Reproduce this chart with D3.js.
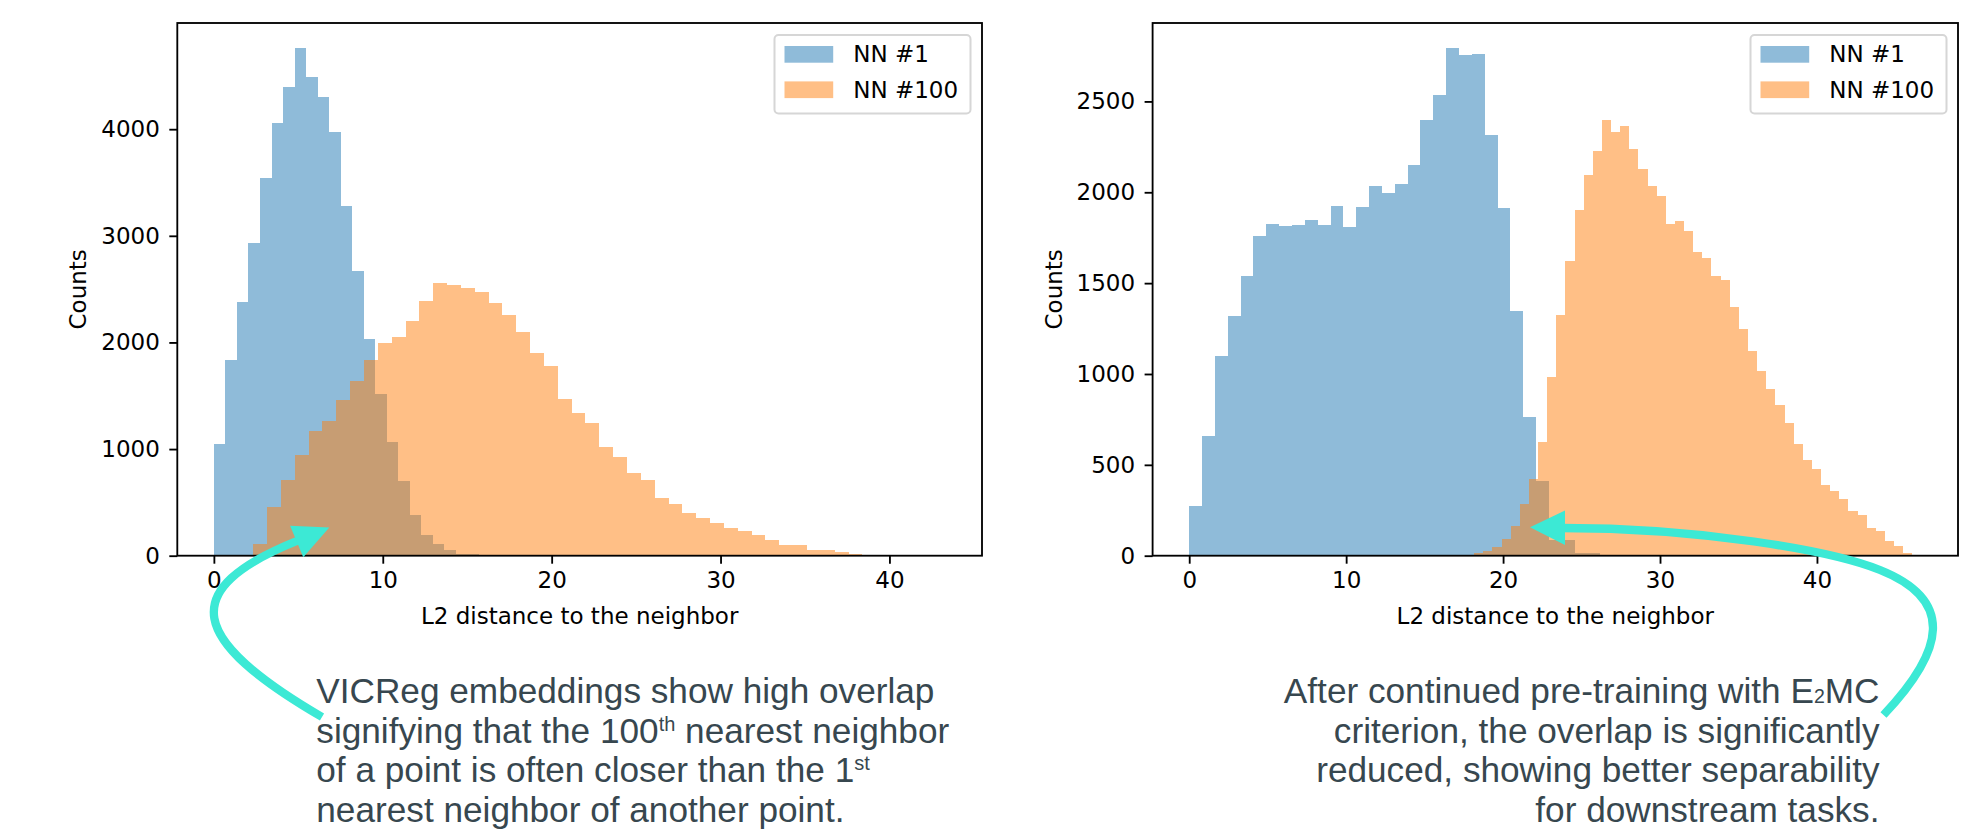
<!DOCTYPE html>
<html><head><meta charset="utf-8">
<script src="https://cdn.jsdelivr.net/npm/d3@7"></script>
<style>body{margin:0;background:#fff} svg{display:block}</style>
</head><body>
<svg id="c" width="1985" height="831"></svg>
<script>
// ---------------- data ----------------
const xTicks = [0, 10, 20, 30, 40];
const leftYTicks = [0, 1000, 2000, 3000, 4000];
const rightYTicks = [0, 500, 1000, 1500, 2000, 2500];
const seriesNames = ["NN #1", "NN #100"];
const xLabel = "L2 distance to the neighbor";
const yLabel = "Counts";

// left panel (VICReg)
const leftNN1Start = 0, leftNN1Width = 0.6824;
const leftNN1Counts = [1044, 1832, 2375, 2928, 3546, 4062, 4399, 4758, 4492, 4305,
  3969, 3276, 2666, 2030, 1515, 1065, 697, 380, 190, 113,
  52, 16, 14, 6, 5, 2, 1, 0, 0, 0,
  0, 0, 0, 0, 0, 0, 0, 0, 0, 0,
  0, 0, 0, 0, 0, 0, 0, 0, 0, 1];
const leftNN100Start = 2.33, leftNN100Width = 0.8197;
const leftNN100Counts = [111, 459, 711, 947, 1166, 1260, 1459, 1640, 1837, 1992,
  2052, 2202, 2390, 2556, 2537, 2512, 2474, 2371, 2259, 2100,
  1904, 1782, 1473, 1342, 1249, 1015, 921, 772, 706, 538,
  482, 398, 351, 304, 257, 229, 192, 145, 98, 98,
  51, 51, 33, 14, 5, 3, 2, 1, 1, 1];

// right panel (after E2MC)
const rightNN1Start = 0, rightNN1Width = 0.8187;
const rightNN1Counts = [273, 661, 1100, 1320, 1539, 1759, 1825, 1814, 1820, 1847,
  1820, 1924, 1808, 1920, 2033, 1996, 2045, 2149, 2396, 2533,
  2792, 2753, 2759, 2314, 1915, 1348, 766, 411, 88, 84,
  15, 13, 4, 2, 0, 0, 0, 0, 0, 0,
  0, 0, 0, 0, 0, 0, 0, 0, 0, 1];
const rightNN100Start = 17.58, rightNN100Width = 0.5815;
const rightNN100Counts = [5, 15, 26, 48, 92, 165, 286, 422, 628, 982,
  1325, 1623, 1903, 2096, 2227, 2397, 2332, 2365, 2239, 2129,
  2035, 1980, 1826, 1843, 1788, 1673, 1640, 1541, 1519, 1371,
  1246, 1128, 1018, 920, 827, 733, 612, 524, 475, 387,
  354, 310, 244, 222, 150, 134, 79, 52, 13, 5];

const leftNote = [
  [{t: "VICReg embeddings show high overlap"}],
  [{t: "signifying that the 100"}, {t: "th", sup: true}, {t: " nearest neighbor"}],
  [{t: "of a point is often closer than the 1"}, {t: "st", sup: true}],
  [{t: "nearest neighbor of another point."}]
];
const rightNote = [
  [{t: "After continued pre-training with E"}, {t: "2", small: true}, {t: "MC"}],
  [{t: "criterion, the overlap is significantly"}],
  [{t: "reduced, showing better separability"}],
  [{t: "for downstream tasks."}]
];

// ---------------- drawing ----------------
const svg = d3.select("#c");
svg.append("rect").attr("width", 1985).attr("height", 831).attr("fill", "#fff");
const COLORS = ["#1f77b4", "#ff7f0e"];
const FONT = "'DejaVu Sans', sans-serif";
const FS = 23;

function panel(box, series, yTicks, yLabelX) {
  const g = svg.append("g");
  const lo = d3.min(series, s => s.start);
  const hi = d3.max(series, s => s.start + s.counts.length * s.width);
  const pad = 0.05 * (hi - lo);
  const x = d3.scaleLinear().domain([lo - pad, hi + pad]).range([box.x0, box.x1]);
  const ymax = d3.max(series, s => d3.max(s.counts)) * 1.05;
  const y = d3.scaleLinear().domain([0, ymax]).range([box.y1, box.y0]);

  series.forEach((s, si) => {
    const bins = s.counts.map((c, i) => ({c, a: s.start + i * s.width, b: s.start + (i + 1) * s.width}))
      .filter(d => d.c > 0);
    g.append("g").selectAll("rect").data(bins).join("rect")
      .attr("x", d => x(d.a)).attr("width", d => x(d.b) - x(d.a))
      .attr("y", d => y(d.c)).attr("height", d => y(0) - y(d.c))
      .attr("fill", COLORS[si]).attr("fill-opacity", 0.5)
      .attr("shape-rendering", "crispEdges");
  });

  // frame
  g.append("rect").attr("x", box.x0).attr("y", box.y0)
    .attr("width", box.x1 - box.x0).attr("height", box.y1 - box.y0)
    .attr("fill", "none").attr("stroke", "#000").attr("stroke-width", 1.84);

  // x axis
  const xa = g.append("g").attr("transform", `translate(0,${box.y1})`)
    .call(d3.axisBottom(x).tickValues(xTicks).tickFormat(d3.format("d")).tickSize(8).tickPadding(8));
  xa.select(".domain").remove();
  xa.selectAll("line").attr("stroke", "#000").attr("stroke-width", 1.84);
  xa.selectAll("text").attr("font-family", FONT).attr("font-size", FS).attr("fill", "#000");

  const ya = g.append("g").attr("transform", `translate(${box.x0},0)`)
    .call(d3.axisLeft(y).tickValues(yTicks).tickFormat(d3.format("d")).tickSize(8).tickPadding(9.5));
  ya.select(".domain").remove();
  ya.selectAll("line").attr("stroke", "#000").attr("stroke-width", 1.84);
  ya.selectAll("text").attr("font-family", FONT).attr("font-size", FS).attr("fill", "#000");

  g.append("text").attr("x", (box.x0 + box.x1) / 2).attr("y", 624)
    .attr("text-anchor", "middle").attr("font-family", FONT).attr("font-size", FS).text(xLabel);
  g.append("text").attr("transform", `translate(${yLabelX},${(box.y0 + box.y1) / 2}) rotate(-90)`)
    .attr("text-anchor", "middle").attr("font-family", FONT).attr("font-size", FS).text(yLabel);

  // legend
  const lw = 196, lh = 78.5;
  const lx = box.x1 - 11.5 - lw, ly = box.y0 + 12;
  const lg = g.append("g");
  lg.append("rect").attr("x", lx).attr("y", ly).attr("width", lw).attr("height", lh)
    .attr("rx", 4).attr("fill", "#fff").attr("fill-opacity", 0.8)
    .attr("stroke", "#d6d6d6").attr("stroke-width", 2);
  seriesNames.forEach((n, i) => {
    const cy = ly + 19.3 + i * 35.4;
    lg.append("rect").attr("x", lx + 10).attr("y", cy - 8.3).attr("width", 48.7).attr("height", 16.7)
      .attr("fill", COLORS[i]).attr("fill-opacity", 0.5);
    lg.append("text").attr("x", lx + 78.7).attr("y", cy).attr("dominant-baseline", "central")
      .attr("font-family", FONT).attr("font-size", FS).text(n);
  });
  return {x, y};
}

panel({x0: 177.3, x1: 982, y0: 23, y1: 555.7},
  [{start: leftNN1Start, width: leftNN1Width, counts: leftNN1Counts},
   {start: leftNN100Start, width: leftNN100Width, counts: leftNN100Counts}],
  leftYTicks, 86);
panel({x0: 1152.6, x1: 1958, y0: 23, y1: 555.7},
  [{start: rightNN1Start, width: rightNN1Width, counts: rightNN1Counts},
   {start: rightNN100Start, width: rightNN100Width, counts: rightNN100Counts}],
  rightYTicks, 1061.5);

// annotations
const NOTE_FONT = "'Liberation Sans', Arial, sans-serif";
const NOTE_COLOR = "#37474f";
function note(lines, xPos, anchor) {
  const baselines = [703, 742.5, 782, 821.5];
  lines.forEach((segs, li) => {
    const t = svg.append("text").attr("x", xPos).attr("y", baselines[li])
      .attr("text-anchor", anchor).attr("font-family", NOTE_FONT)
      .attr("font-size", 35.2).attr("fill", NOTE_COLOR);
    let shift = 0;
    segs.forEach(s => {
      const ts = t.append("tspan").text(s.t);
      let target = 0;
      if (s.sup) { ts.attr("font-size", 20); target = -12; }
      if (s.small) { ts.attr("font-size", 19.5); target = 0; }
      if (target !== shift) { ts.attr("dy", target - shift); shift = target; }
    });
  });
}
note(leftNote, 316.3, "start");
note(rightNote, 1879.5, "end");

// arrows
const ARROW = "#3ce9d5";
function arrow(d, tip, base1, base2) {
  svg.append("path").attr("d", d).attr("fill", "none").attr("stroke", ARROW)
    .attr("stroke-width", 8.3);
  svg.append("path").attr("d", `M${tip[0]},${tip[1]}L${base1[0]},${base1[1]}L${base2[0]},${base2[1]}Z`)
    .attr("fill", ARROW);
}
arrow("M322,717 C190,640 175,590 298,540.5", [329.3, 527.6], [290.1, 525.8], [303.3, 557.2]);
arrow("M1883.5,715 C1945,650 1955,600 1880,570 C1830,550 1700,528 1562,528", [1530, 527.3], [1565, 510.5], [1565, 545]);
</script>
</body></html>
